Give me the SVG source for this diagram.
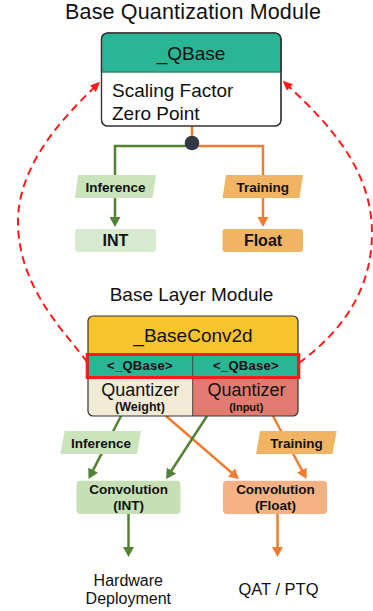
<svg xmlns="http://www.w3.org/2000/svg" width="373" height="611" viewBox="0 0 373 611">
<style>
text{font-family:"Liberation Sans",Arial,sans-serif;fill:#111;}
.t{font-size:19px;}
.b{font-weight:bold;}
.mid{text-anchor:middle;}
.box{stroke:#333;stroke-width:1.2;}
.g{stroke:#548235;stroke-width:2.5;fill:none;}
.o{stroke:#ed7d31;stroke-width:2.5;fill:none;}
.r{stroke:#ff1a1a;stroke-width:2;fill:none;stroke-dasharray:8 5;}
</style>
<defs>
<marker id="ag" markerUnits="userSpaceOnUse" markerWidth="10" markerHeight="11" refX="2" refY="5.5" orient="auto"><path d="M0,0 L10,5.5 L0,11 z" fill="#548235"/></marker>
<marker id="ao" markerUnits="userSpaceOnUse" markerWidth="10" markerHeight="11" refX="2" refY="5.5" orient="auto"><path d="M0,0 L10,5.5 L0,11 z" fill="#ed7d31"/></marker>
<marker id="ar" markerUnits="userSpaceOnUse" markerWidth="10" markerHeight="9" refX="3" refY="4.5" orient="auto"><path d="M0,0 L10,4.5 L0,9 z" fill="#ff1a1a"/></marker>
</defs>
<rect width="373" height="611" fill="#fff"/>

<g id="connectors">
<path class="o" d="M192,126 V143"/>
<path class="g" d="M186,146 H115 V219" marker-end="url(#ag)"/>
<path class="o" d="M198,146 H263 V219" marker-end="url(#ao)"/>
<circle cx="192" cy="143" r="7.3" fill="#323846"/>
<path class="g" d="M121,416 L92.2,471.9" marker-end="url(#ag)"/>
<path class="o" d="M166,416 L232.9,473.8" marker-end="url(#ao)"/>
<path class="g" d="M207,416 L170.4,472.3" marker-end="url(#ag)"/>
<path class="o" d="M273,416 L302.8,471.9" marker-end="url(#ao)"/>
<path class="g" d="M128.5,514 V549" marker-end="url(#ag)"/>
<path class="o" d="M277.5,514 V549" marker-end="url(#ao)"/>
<path class="r" d="M87,362 C70,337 18,290 18,222 C18,170 55,125 95,86.7" marker-end="url(#ar)"/>
<path class="r" d="M299,363 C330,340 372,300 372,233 C372,170 330,125 287.8,85.5" marker-end="url(#ar)"/>
</g>

<g id="title-quant">
<text class="mid" x="193" y="19" font-size="21.5" textLength="256" lengthAdjust="spacing">Base Quantization Module</text>
</g>

<g id="qbase">
<rect class="box" x="101.5" y="33" width="179.5" height="93" rx="6" fill="#fff"/>
<path d="M101.5,72 V39 a6,6 0 0 1 6,-6 H275 a6,6 0 0 1 6,6 V72 z" fill="#2ab595" class="box"/>
<path d="M101.5,72 H281" stroke="#2ab595" stroke-width="1"/>
<rect x="101.5" y="33" width="179.5" height="93" rx="6" fill="none" class="box"/>
<text class="t mid" x="191" y="60">_QBase</text>
<text class="t" x="112" y="96.5">Scaling Factor</text>
<text class="t" x="112" y="120">Zero Point</text>
</g>

<g id="label-inference-top">
<path d="M78,175 H156 L152.5,198 H75 z" fill="#c9e3bb"/>
<text class="b mid" x="115.5" y="191.5" font-size="13.5">Inference</text>
</g>
<g id="label-training-top">
<path d="M226,175 H303 L299.5,198 H222.5 z" fill="#f1b462"/>
<text class="b mid" x="262.7" y="191.5" font-size="13.5">Training</text>
</g>
<g id="int">
<rect x="75" y="229" width="81" height="23" rx="3" fill="#d7eacf"/>
<text class="b mid" x="115.5" y="246" font-size="16">INT</text>
</g>
<g id="float">
<rect x="222.5" y="229" width="80.5" height="23" rx="3" fill="#f1b462"/>
<text class="b mid" x="263" y="246" font-size="16">Float</text>
</g>

<g id="title-layer">
<text class="t mid" x="191.5" y="300.5">Base Layer Module</text>
</g>

<g id="baseconv2d">
<path d="M88,354 V321 a5,5 0 0 1 5,-5 H293 a5,5 0 0 1 5,5 V354 z" fill="#f7c42c"/>
<rect x="88" y="354" width="210" height="23" fill="#2ab595"/>
<path d="M88,377 H192.7 V416 H93 a5,5 0 0 1 -5,-5 z" fill="#f2ebd6"/>
<path d="M192.7,377 H298 V411 a5,5 0 0 1 -5,5 H192.7 z" fill="#e27b6f"/>
<path d="M192.7,354 V416" stroke="#444" stroke-width="1"/>
<rect class="box" x="88" y="316" width="210" height="100" rx="5" fill="none"/>
<rect x="87.2" y="354.5" width="211.6" height="23" fill="none" stroke="#ff1a1a" stroke-width="3"/>
<text class="t mid" x="193" y="341.5">_BaseConv2d</text>
<text class="b mid" x="140" y="370" font-size="13" letter-spacing="0.3">&lt;_QBase&gt;</text>
<text class="b mid" x="246" y="370" font-size="13" letter-spacing="0.3">&lt;_QBase&gt;</text>
<text class="mid" x="140.3" y="395.5" font-size="18">Quantizer</text>
<text class="mid" x="246.5" y="395.5" font-size="18">Quantizer</text>
<text class="b mid" x="140" y="410.5" font-size="12.5">(Weight)</text>
<text class="b mid" x="246.3" y="410.5" font-size="11">(Input)</text>
</g>

<g id="label-inference-bottom">
<path d="M64.5,431 H141 L137,454 H60.5 z" fill="#c9e3bb"/>
<text class="b mid" x="101" y="447.5" font-size="13.5">Inference</text>
</g>
<g id="label-training-bottom">
<path d="M260,431 H336.7 L332.5,454 H256 z" fill="#f1b462"/>
<text class="b mid" x="296.5" y="447.5" font-size="13.5">Training</text>
</g>

<g id="conv-int">
<rect x="76.5" y="480.7" width="104" height="33.3" rx="4" fill="#c5e0b4"/>
<text class="b mid" x="128.7" y="494" font-size="13.5">Convolution</text>
<text class="b mid" x="128.7" y="509.5" font-size="13.5">(INT)</text>
</g>
<g id="conv-float">
<rect x="223" y="480.7" width="104" height="33.3" rx="4" fill="#f4b183"/>
<text class="b mid" x="275.5" y="494" font-size="13.5">Convolution</text>
<text class="b mid" x="275.5" y="509.5" font-size="13.5">(Float)</text>
</g>

<g id="hardware">
<text class="mid" x="128.3" y="586" font-size="16">Hardware</text>
<text class="mid" x="128.3" y="604" font-size="16">Deployment</text>
</g>
<g id="qat">
<text class="mid" x="278.5" y="595" font-size="16.5">QAT / PTQ</text>
</g>
</svg>
